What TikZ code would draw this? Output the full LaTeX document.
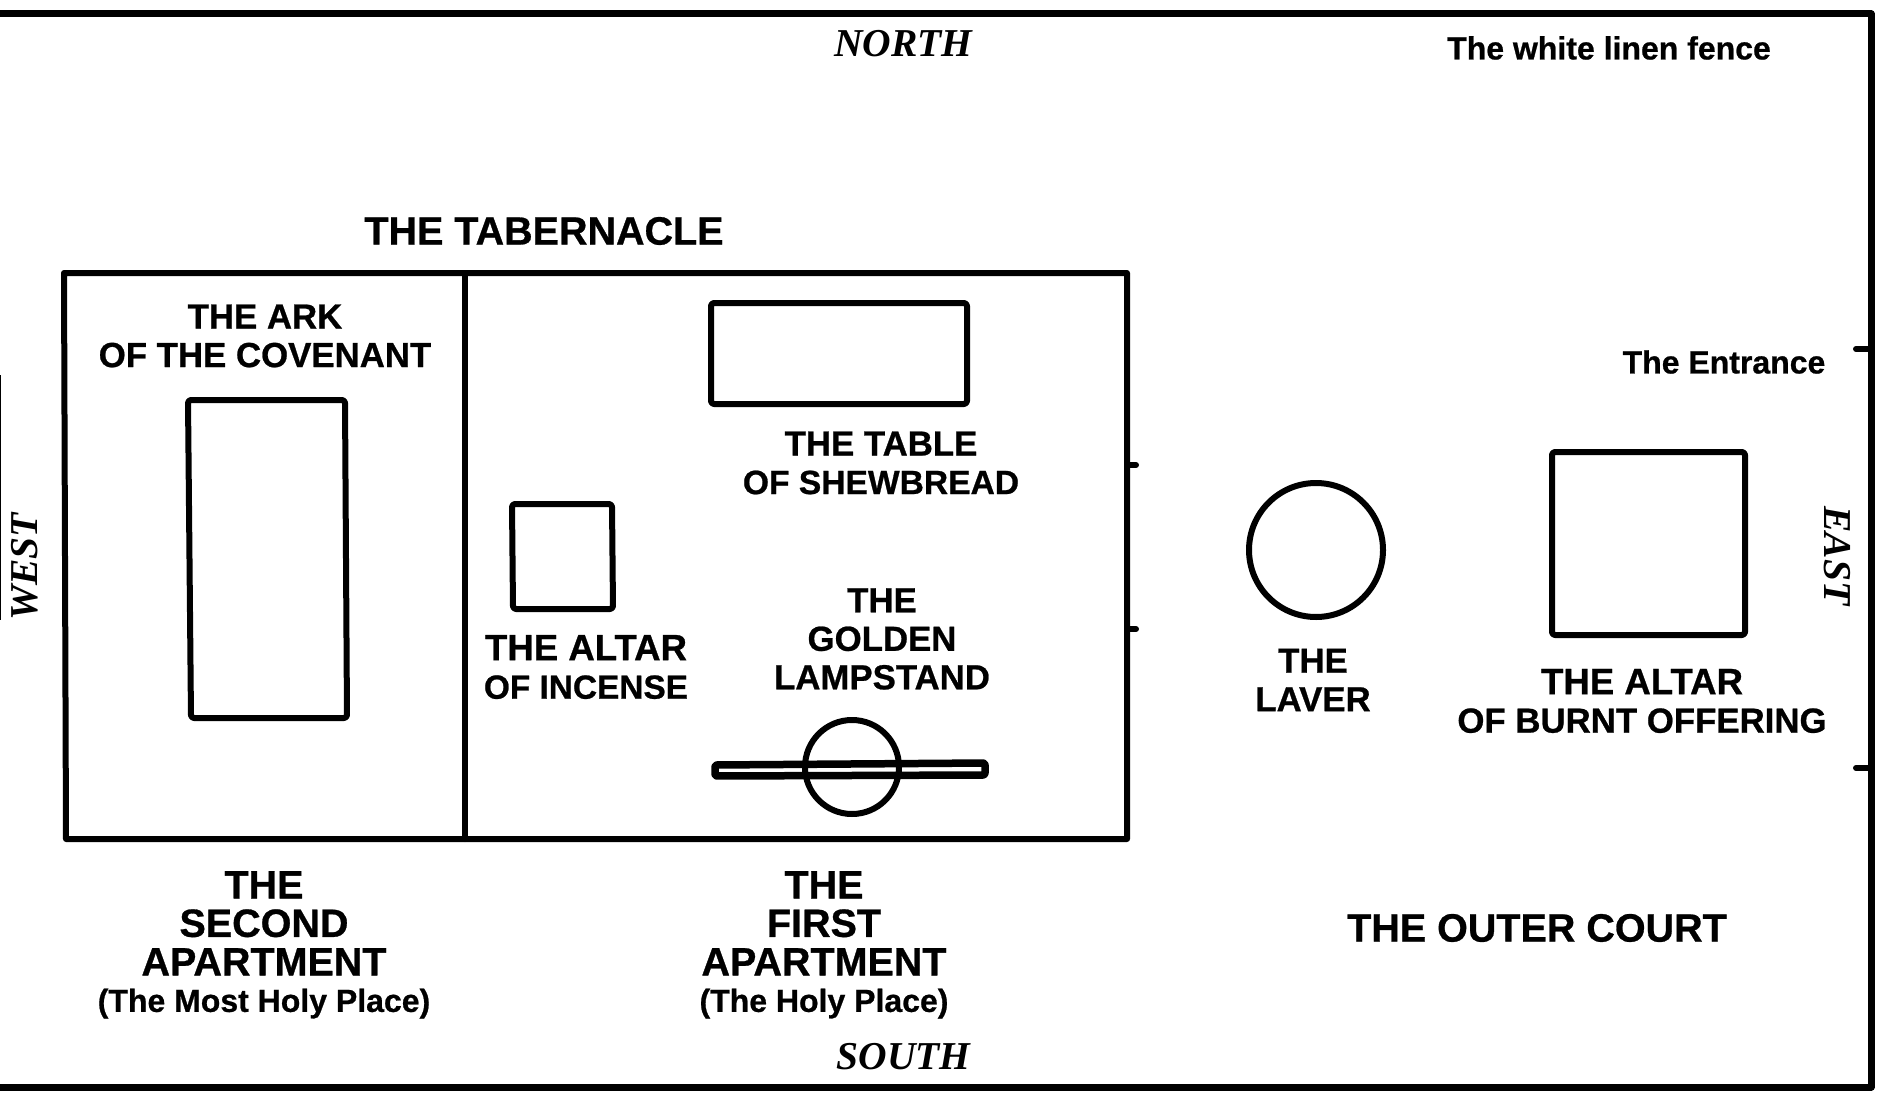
\documentclass[tikz,border=0pt]{standalone}
\usepackage{fontspec}
\setmainfont{Liberation Sans}[BoldFeatures={FakeBold=0.7}]
\newfontfamily\compass{Liberation Serif}
\newcommand{\labsize}[1]{\fontsize{#1}{39}\selectfont}
\tikzset{
  wall/.style={draw=black,line width=6pt,line join=round,line cap=round},
  fence/.style={draw=black,line width=7pt,line join=round,line cap=round},
  item/.style={draw=black,line width=6pt,line join=round,rounded corners=3pt},
  lab/.style={inner sep=0pt,align=center,font=\bfseries\fontsize{34.8}{38.5}\selectfont},
  biglab/.style={inner sep=0pt,align=center,font=\bfseries\fontsize{39.5}{38.5}\selectfont},
  smalllab/.style={inner sep=0pt,align=center,font=\bfseries\fontsize{32}{39}\selectfont},
  dir/.style={inner sep=0pt,font=\compass\bfseries\itshape\fontsize{39.5}{39}\selectfont},
}
\begin{document}
\begin{tikzpicture}[x=1pt,y=-1pt]
\useasboundingbox[fill=white] (0,0) rectangle (1879,1102);
% outer fence
\coordinate (ftl) at (0,14); \coordinate (ftr) at (1871,14);
\coordinate (fbr) at (1871,1087); \coordinate (fbl) at (0,1087);
\draw[fence] (ftl) -- (ftr) -- (fbr) -- (fbl);
\coordinate (e1a) at (1871,349); \coordinate (e1b) at (1856,349);
\coordinate (e2a) at (1871,768); \coordinate (e2b) at (1856,768);
\draw[fence,line width=6pt] (e1a) -- (e1b) (e2a) -- (e2b);
\coordinate (wa) at (0.5,375); \coordinate (wb) at (0.5,620);
\draw[black,line width=1.5pt] (wa) -- (wb);
% tabernacle
\coordinate (ttl) at (64,273); \coordinate (ttr) at (1127,273);
\coordinate (tbr) at (1127,839); \coordinate (tbl) at (66,839);
\draw[wall] (ttl) -- (ttr) -- (tbr) -- (tbl) -- cycle;
\coordinate (da) at (465,273); \coordinate (db) at (465,839);
\draw[wall] (da) -- (db);
\coordinate (t1a) at (1127,465); \coordinate (t1b) at (1136,465);
\coordinate (t2a) at (1127,629); \coordinate (t2b) at (1136,629);
\draw[wall] (t1a) -- (t1b) (t2a) -- (t2b);
% furniture
\draw[item] (188,400) -- (345,400) -- (347,718) -- (191,718) -- cycle;
\draw[item] (711,303) -- (967,303) -- (967,404) -- (711,404) -- cycle;
\draw[item] (512,504) -- (612,504) -- (613,609) -- (513,609) -- cycle;
\draw[item] (1552,452) -- (1745,452) -- (1745,635) -- (1552,635) -- cycle;
\node[circle,draw=black,line width=6pt,minimum size=134pt,inner sep=0pt] (laver) at (1316,550) {};
\node[circle,draw=black,line width=6pt,minimum size=94pt,inner sep=0pt] (lampbase) at (852,767) {};
\draw[item,line width=7.5pt,rounded corners=2pt] (715,765) -- (985,763) -- (985,775) -- (715,776) -- cycle;
% labels
\node[dir] (north) at (903.5,44) {NORTH};
\node[dir] (south) at (903.5,1057) {SOUTH};
\node[dir,rotate=90] (west) at (25,567) {WEST};
\node[dir,rotate=-90] (east) at (1837,556) {EAST};
\node[smalllab] (fence) at (1609,48) {The white linen fence};
\node[smalllab] (entrance) at (1724,362) {The Entrance};
\node[biglab] (tabernacle) at (544,231) {THE TABERNACLE};
\node[lab] (ark) at (265,336) {THE ARK\\OF THE COVENANT};
\node[lab] (table) at (881,463) {THE TABLE\\{\labsize{33.6}OF SHEWBREAD}};
\node[lab] (incense) at (586,667) {{\labsize{36.6}THE ALTAR}\\{\labsize{33.4}OF INCENSE}};
\node[lab] (lamp) at (882,639) {THE\\GOLDEN\\LAMPSTAND};
\node[lab] (lav) at (1313,680) {THE\\LAVER};
\node[lab] (burnt) at (1642,701) {{\labsize{36.6}THE ALTAR}\\OF BURNT OFFERING};
\node[biglab,anchor=north] (second) at (264,871) {THE\\SECOND\\APARTMENT\\[-2pt]{\fontsize{32}{39}\selectfont (The Most Holy Place)}};
\node[biglab,anchor=north] (first) at (824,871) {THE\\FIRST\\APARTMENT\\[-2pt]{\fontsize{32}{39}\selectfont (The Holy Place)}};
\node[biglab] (court) at (1537,928) {THE OUTER COURT};
\end{tikzpicture}
\end{document}
